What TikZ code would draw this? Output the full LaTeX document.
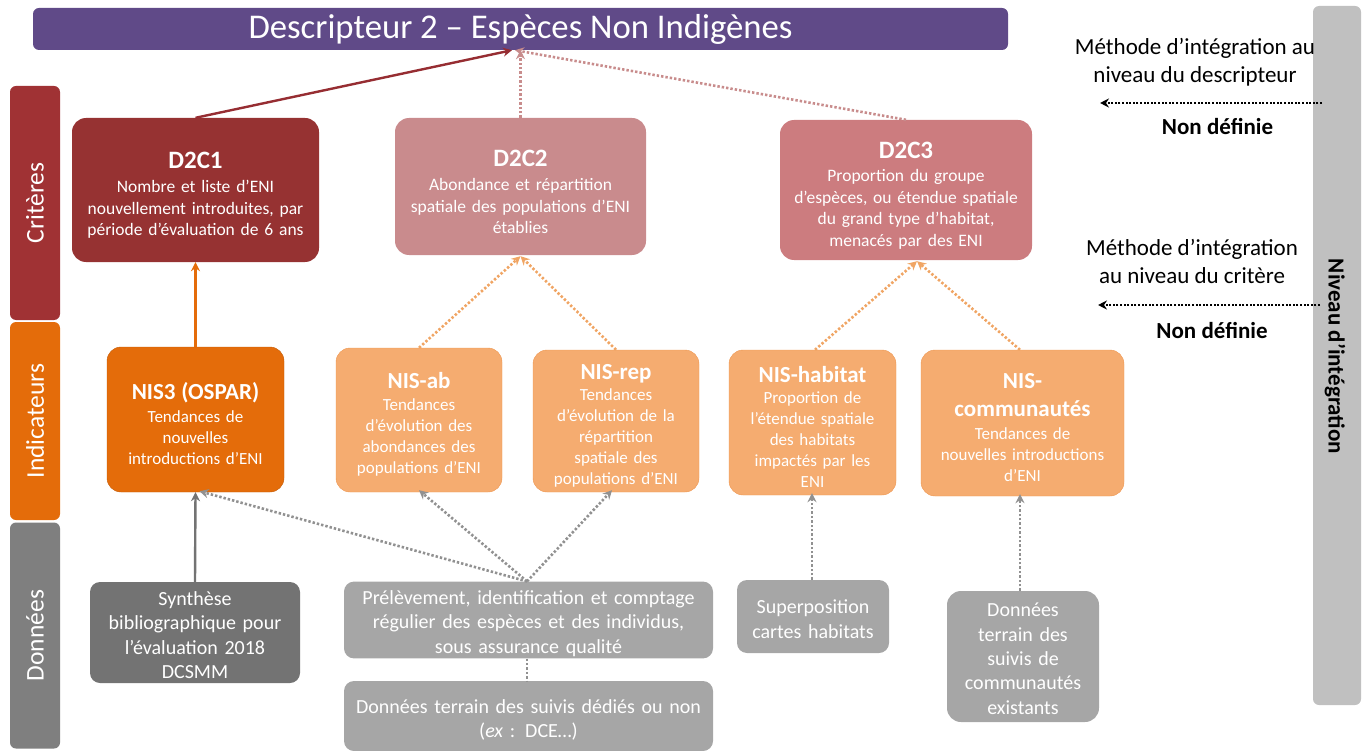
\documentclass[tikz,border=0pt]{standalone}
\usepackage{fontspec}
\setmainfont{Carlito}
\usetikzlibrary{arrows.meta}
\definecolor{titlepurple}{RGB}{96,74,136}
\definecolor{critbar}{RGB}{160,50,52}
\definecolor{cone}{RGB}{150,50,50}
\definecolor{ctwo}{RGB}{201,139,141}
\definecolor{cthree}{RGB}{204,124,127}
\definecolor{ind}{RGB}{228,108,10}
\definecolor{indlight}{RGB}{245,172,112}
\definecolor{indborder}{RGB}{238,150,80}
\definecolor{dgrey}{RGB}{115,115,115}
\definecolor{lgrey}{RGB}{166,166,166}
\definecolor{barg}{RGB}{127,127,127}
\definecolor{rbar}{RGB}{192,192,192}
\definecolor{solidred}{RGB}{150,45,50}
\definecolor{dotrose}{RGB}{200,140,140}
\definecolor{dotorange}{RGB}{240,165,100}
\definecolor{dotgrey}{RGB}{145,145,145}
\tikzset{
  box/.style={rounded corners=14pt, align=center, text=white, inner sep=2pt},
  sidebar/.style={rounded corners=6pt, minimum height=50pt, text=white, font=\fontsize{25.5}{28}\selectfont},
  critbody/.style={font=\fontsize{17.5}{21.5}\selectfont},
  indbody/.style={font=\fontsize{17}{21}\selectfont},
  databody/.style={font=\fontsize{20}{24.3}\selectfont},
  tip/.style={-{Stealth[length=9pt,width=9pt,inset=3pt]}},
  dots/.style={line width=2.6pt, dash pattern=on 2.4pt off 2pt},
  rtext/.style={align=center, font=\fontsize{23}{28}\selectfont},
  rbold/.style={font=\fontsize{23}{26}\selectfont\bfseries},
}
\newcommand{\ct}[1]{{\fontsize{25}{25}\selectfont\bfseries\rule{0pt}{27pt}#1}}
\newcommand{\indt}[1]{{\fontsize{23}{23}\selectfont\bfseries\rule{0pt}{25pt}#1}}
\newcommand{\dstrut}[1]{\rule{0pt}{#1}}
\begin{document}
\begin{tikzpicture}[x=1pt,y=-1pt]
\useasboundingbox (0,0) rectangle (1364,751);
% title
\node[fill=titlepurple, rounded corners=6pt, minimum width=975pt, minimum height=42pt, text=white, font=\fontsize{34.7}{36}\selectfont] (title) at (520.5,29) {Descripteur 2 – Espèces Non Indigènes};
% side bars
\node[sidebar, fill=critbar, minimum width=234pt, rotate=90] (crit) at (35,203) {Critères};
\node[sidebar, fill=ind, minimum width=198pt, rotate=90] (indic) at (35,421) {Indicateurs};
\node[sidebar, fill=barg, minimum width=226pt, rotate=90] (donn) at (35,635.5) {Données};
% right bar
\node[fill=rbar, rounded corners=6pt, minimum width=48pt, minimum height=699pt] (rbar) at (1337,355.5) {};
\node[rotate=-90, font=\fontsize{23}{26}\selectfont\bfseries] (rlabel) at (1335,356.5) {Niveau d’intégration};
% criteria
\node[box, fill=cone, minimum width=247pt, minimum height=144pt, text width=240pt, critbody] (c1) at (195.5,190) {\ct{D2C1}\\[3pt]Nombre et liste d’ENI\\nouvellement introduites, par\\période d’évaluation de 6 ans};
\node[box, fill=ctwo, minimum width=251pt, minimum height=137pt, text width=244pt, critbody] (c2) at (520.5,186.5) {\ct{D2C2}\\[3pt]Abondance et répartition\\spatiale des populations d’ENI\\établies};
\node[box, fill=cthree, minimum width=252pt, minimum height=140pt, text width=245pt, critbody] (c3) at (906,190) {\ct{D2C3}\\[2pt]Proportion du groupe\\d’espèces, ou étendue spatiale\\du grand type d’habitat,\\menacés par des ENI};
% indicators
\node[box, fill=ind, draw=ind!85!black, minimum width=177pt, minimum height=145pt, text width=170pt, indbody] (n3) at (195.5,419.5) {\indt{NIS3 (OSPAR)}\\[2pt]Tendances de\\nouvelles\\introductions d’ENI};
\node[box, fill=indlight, draw=indborder, minimum width=166pt, minimum height=144pt, text width=160pt, indbody] (nab) at (419,420) {\indt{NIS-ab}\\[1pt]Tendances\\d’évolution des\\abondances des\\populations d’ENI};
\node[box, fill=indlight, draw=indborder, minimum width=166pt, minimum height=142pt, text width=160pt, indbody] (nrep) at (616,421) {\indt{NIS-rep}\\Tendances\\d’évolution de la\\répartition\\spatiale des\\populations d’ENI};
\node[box, fill=indlight, draw=indborder, minimum width=167pt, minimum height=145pt, text width=160pt, indbody] (nhab) at (812.5,422.5) {\indt{NIS-habitat}\\Proportion de\\l’étendue spatiale\\des habitats\\impactés par les\\ENI};
\node[box, fill=indlight, draw=indborder, minimum width=203pt, minimum height=146pt, text width=196pt, indbody] (ncom) at (1022.5,423) {\indt{NIS-}\\[7pt]{\fontsize{23}{23}\selectfont\bfseries communautés}\\[2pt]Tendances de\\nouvelles introductions\\d’ENI};
% data
\node[box, fill=dgrey, rounded corners=10pt, minimum width=210pt, minimum height=101pt, text width=204pt, databody] (syn) at (195,632.5) {\dstrut{19pt}Synthèse\\bibliographique pour\\l’évaluation 2018\\DCSMM};
\node[box, fill=lgrey, rounded corners=10pt, minimum width=369pt, minimum height=74pt, text width=362pt, databody] (prel) at (528.5,620) {\dstrut{21pt}Prélèvement, identification et comptage\\régulier des espèces et des individus,\\sous assurance qualité};
\node[box, fill=lgrey, rounded corners=10pt, minimum width=369pt, minimum height=70pt, text width=362pt, databody] (dter) at (528.5,716) {\dstrut{22pt}Données terrain des suivis dédiés ou non\\(\textit{ex} : DCE…)};
\node[box, fill=lgrey, rounded corners=10pt, minimum width=152pt, minimum height=73pt, text width=146pt, databody] (sup) at (813,616.5) {\dstrut{19pt}Superposition\\cartes habitats};
\node[box, fill=lgrey, rounded corners=14pt, minimum width=152pt, minimum height=131pt, text width=146pt, databody] (dcom) at (1023,656.5) {\dstrut{18pt}Données\\terrain des\\suivis de\\communautés\\existants};
% right texts
\node[rtext] (m1) at (1195,62) {Méthode d’intégration au\\niveau du descripteur};
\node[rbold] (nd1) at (1217.5,126) {Non définie};
\node[rtext] (m2) at (1192,261) {Méthode d’intégration\\au niveau du critère};
\node[rbold] (nd2) at (1212,330) {Non définie};
\coordinate (a1s) at (1322,103);
\coordinate (a1e) at (1100,103);
\coordinate (a2s) at (1320,305);
\coordinate (a2e) at (1098,305);
\draw[dots, line width=2.2pt, dash pattern=on 2pt off 1.6pt, tip] (a1s) -- (a1e);
\draw[dots, line width=2.2pt, dash pattern=on 2pt off 1.6pt, tip] (a2s) -- (a2e);
% connectors to title
\draw[solidred, line width=2.4pt, tip] (c1.north) -- (title.south -| 512,0);
\draw[dotrose, dots, tip] (c2.north) -- (c2.north |- title.south);
\draw[dotrose, dots, tip] (c3.north) -- (title.south -| 515,0);
% indicators to criteria
\draw[ind, line width=2.4pt, tip] (n3.north) -- (c1.south);
\draw[dotorange, dots, tip] (nab.north) -- ([yshift=-1pt]c2.south);
\draw[dotorange, dots, tip] (nrep.north) -- ([yshift=-1pt]c2.south);
\draw[dotorange, dots, tip] (nhab.north -| 815,0) -- ([xshift=11pt,yshift=-1pt]c3.south);
\draw[dotorange, dots, tip] (ncom.north -| 1020,0) -- ([xshift=11pt,yshift=-1pt]c3.south);
% data to indicators
\draw[dgrey, line width=2.4pt, tip] (syn.north) -- (n3.south);
\draw[dotgrey, dots, tip] (prel.north -| 527,0) -- ([xshift=4pt,yshift=1pt]n3.south);
\draw[dotgrey, dots, tip] (prel.north -| 527,0) -- ([yshift=2pt]nab.south);
\draw[dotgrey, dots, tip] (prel.north -| 527,0) -- ([xshift=-4pt,yshift=2pt]nrep.south);
\draw[dotgrey, dots] (prel.south -| 527,0) -- (dter.north -| 527,0);
\draw[dotgrey, dots, tip] (sup.north -| 812,0) -- ([yshift=2pt]nhab.south -| 812,0);
\draw[dotgrey, dots, tip] (dcom.north -| 1020,0) -- ([yshift=2pt]ncom.south -| 1020,0);
\end{tikzpicture}
\end{document}
